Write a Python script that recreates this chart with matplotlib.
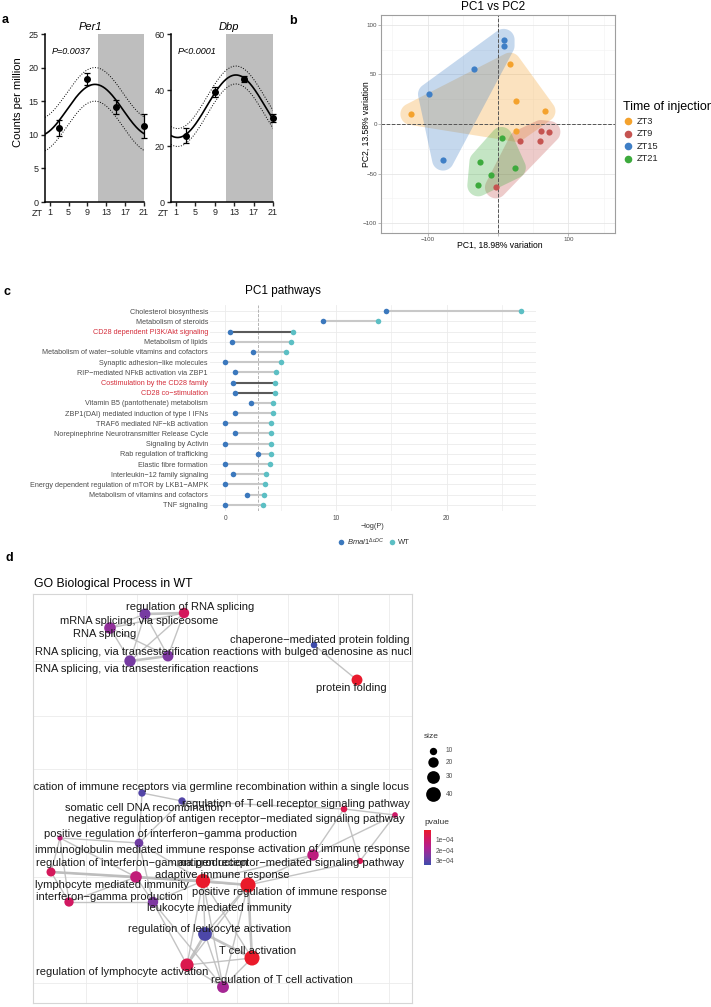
import numpy as np
import matplotlib.pyplot as plt
from matplotlib.colors import LinearSegmentedColormap, Normalize
from matplotlib.cm import ScalarMappable
from matplotlib.patches import Polygon

W, H = 711, 1007
plt.rcParams['font.family'] = ['Liberation Sans', 'DejaVu Sans']
plt.rcParams['mathtext.fontset'] = 'custom'
plt.rcParams['mathtext.rm'] = 'Liberation Sans'
plt.rcParams['mathtext.it'] = 'Liberation Sans:italic'

# ---------------- data: panel a (circadian expression)
zt = np.array([3, 9, 15, 21])
zt_ticks = [1, 5, 9, 13, 17, 21]
per1_mean = np.array([11.0, 18.3, 14.1, 11.3])
per1_err = [1.25, 0.9, 1.07, 1.74]
per1_band = 2.5
dbp_mean = np.array([23.6, 39.3, 43.9, 30.0])
dbp_err = [2.7, 1.7, 1.2, 1.4]
dbp_band = 3.2
dark_start = 11.3

# ---------------- data: panel b (PCA)
pca_groups = ['ZT3', 'ZT9', 'ZT15', 'ZT21']
pca_colors = ['#F4A22D', '#C55451', '#3F7FC6', '#3DAA3D']
zt3_pc1 = [-123, 17, 25, 66, 26]
zt3_pc2 = [10, 61, 23, 13, -7]
zt9_pc1 = [31, 61, 73, 60, -3]
zt9_pc2 = [-17, -7, -8, -17, -64]
zt15_pc1 = [8, 8, -34, -98, -78]
zt15_pc2 = [85, 79, 56, 30, -36]
zt21_pc1 = [5, -25, -10, -28, 24]
zt21_pc2 = [-14, -38, -51, -62, -44]

# ---------------- data: panel c (pathways)
pathways = [
    'Cholesterol biosynthesis', 'Metabolism of steroids',
    'CD28 dependent PI3K/Akt signaling', 'Metabolism of lipids',
    'Metabolism of water\u2212soluble vitamins and cofactors',
    'Synaptic adhesion\u2212like molecules',
    'RIP\u2212mediated NFkB activation via ZBP1',
    'Costimulation by the CD28 family', 'CD28 co\u2212stimulation',
    'Vitamin B5 (pantothenate) metabolism',
    'ZBP1(DAI) mediated induction of type I IFNs',
    'TRAF6 mediated NF\u2212kB activation',
    'Norepinephrine Neurotransmitter Release Cycle',
    'Signaling by Activin', 'Rab regulation of trafficking',
    'Elastic fibre formation', 'Interleukin\u221212 family signaling',
    'Energy dependent regulation of mTOR by LKB1\u2212AMPK',
    'Metabolism of vitamins and cofactors', 'TNF signaling']
bmal1_logp = [14.5, 8.8, 0.4, 0.6, 2.5, 0.0, 0.9, 0.7, 0.85, 2.3,
              0.85, 0.0, 0.85, 0.0, 3.0, 0.0, 0.7, 0.0, 2.0, 0.0]
wt_logp = [26.7, 13.8, 6.1, 5.9, 5.5, 5.0, 4.55, 4.5, 4.5, 4.35,
           4.35, 4.1, 4.1, 4.1, 4.1, 4.05, 3.7, 3.6, 3.5, 3.45]
highlight = ['CD28 dependent PI3K/Akt signaling',
             'Costimulation by the CD28 family', 'CD28 co\u2212stimulation']

# ---------------- data: panel d (GO network, layout coordinates)
go_terms = [
    'regulation of RNA splicing', 'mRNA splicing, via spliceosome',
    'RNA splicing', 'RNA splicing, via transesterification reactions',
    'RNA splicing, via transesterification reactions with bulged adenosine as nucleophile',
    'chaperone\u2212mediated protein folding', 'protein folding',
    'somatic diversification of immune receptors via germline recombination within a single locus',
    'somatic cell DNA recombination',
    'regulation of T cell receptor signaling pathway',
    'negative regulation of antigen receptor\u2212mediated signaling pathway',
    'positive regulation of interferon\u2212gamma production',
    'immunoglobulin mediated immune response',
    'activation of immune response',
    'regulation of interferon\u2212gamma production',
    'antigen receptor\u2212mediated signaling pathway',
    'lymphocyte mediated immunity', 'adaptive immune response',
    'positive regulation of immune response',
    'interferon\u2212gamma production', 'leukocyte mediated immunity',
    'regulation of leukocyte activation', 'T cell activation',
    'regulation of lymphocyte activation',
    'regulation of T cell activation']
node_x = [184, 145, 110, 130, 168, 314, 357, 142, 182, 344, 395, 60, 139,
          313, 51, 360, 136, 203, 248, 69, 153, 205, 252, 187, 223]
node_y = [613, 614, 628, 661, 656, 645, 680, 793, 801, 809, 815, 838, 843,
          855, 872, 861, 877, 881, 885, 902, 902, 934, 958, 965, 987]
label_x = [190, 139, 105, 147, 35, 320, 351, 409, 144, 296, 236, 170, 145,
           334, 36, 291, 112, 222, 290, 109, 219, 210, 258, 122, 282]
label_y = [607, 621, 634, 669, 652, 640, 688, 787, 808, 804, 819, 834, 850,
           849, 863, 863, 885, 875, 892, 897, 908, 929, 951, 972, 980]
label_ha = ['center'] * 25
label_ha[4] = 'left'
label_ha[14] = 'left'
label_ha[7] = 'right'
go_size = [20, 22, 25, 24, 22, 8, 22, 10, 10, 8, 6, 5, 14, 24, 15, 7,
           25, 38, 42, 16, 20, 35, 42, 32, 26]
go_pvalue = [0.8e-4, 2.6e-4, 2.2e-4, 2.6e-4, 2.5e-4, 3.4e-4, 0.1e-4,
             3.1e-4, 3.1e-4, 0.6e-4, 1.0e-4, 1.3e-4, 2.7e-4, 1.4e-4,
             0.8e-4, 0.7e-4, 1.3e-4, 0.1e-4, 0.05e-4, 0.9e-4, 2.5e-4,
             3.2e-4, 0.05e-4, 0.6e-4, 1.9e-4]
go_edges = [(0, 1, 2), (1, 2, 1), (1, 3, 1), (1, 4, 1), (2, 3, 1), (2, 4, 1),
            (0, 3, 1), (0, 4, 1), (3, 4, 2), (0, 2, 1), (5, 6, 1),
            (7, 8, 1), (7, 12, 1), (8, 12, 1), (8, 9, 1), (9, 10, 1),
            (9, 15, 1), (9, 13, 1), (10, 15, 1), (10, 13, 1), (13, 18, 1),
            (15, 18, 1), (13, 17, 1), (11, 14, 1), (11, 19, 1), (11, 12, 1),
            (11, 16, 1), (14, 19, 1), (14, 16, 2), (14, 17, 1), (12, 16, 1),
            (12, 17, 1), (12, 20, 1), (16, 17, 2), (16, 20, 1), (16, 19, 1),
            (16, 18, 1), (19, 20, 1), (17, 18, 2), (17, 20, 1), (17, 21, 1),
            (17, 22, 1), (17, 23, 1), (17, 24, 1), (18, 21, 1), (18, 22, 2),
            (18, 23, 1), (18, 24, 1), (20, 23, 1), (20, 24, 1), (21, 22, 2),
            (21, 23, 2), (21, 24, 1), (22, 23, 1), (22, 24, 1), (23, 24, 1),
            (14, 18, 1)]
size_breaks = [10, 20, 30, 40]
pvalue_ticks = [1e-4, 2e-4, 3e-4]

fig = plt.figure(figsize=(W / 100, H / 100), dpi=100)


def add_ax(l, t, r, b):
    return fig.add_axes([l / W, 1 - b / H, (r - l) / W, (b - t) / H])


def ftext(x, y, s, **kw):
    fig.text(x / W, 1 - y / H, s, **kw)


def cosinor(t, y):
    w = 2 * np.pi / 24
    X = np.column_stack([np.ones(len(t)), np.cos(w * t), np.sin(w * t)])
    c = np.linalg.lstsq(X, y, rcond=None)[0]
    tt = np.linspace(0, 21, 200)
    return tt, c[0] + c[1] * np.cos(w * tt) + c[2] * np.sin(w * tt)


# ---------------- panel a
for (l, r, mean, err, band, ymax, yt, name, pval, tx) in [
        (45, 144, per1_mean, per1_err, per1_band, 25, range(0, 26, 5), 'Per1', 'P=0.0037', 90),
        (171, 273, dbp_mean, dbp_err, dbp_band, 60, range(0, 61, 20), 'Dbp', 'P<0.0001', 229)]:
    ax = add_ax(l, 34, r, 202)
    ax.axvspan(dark_start, 21, color='#BEBEBE', lw=0, zorder=0)
    tt, fit = cosinor(zt, mean)
    ax.plot(tt, fit, color='black', lw=1.2)
    ax.plot(tt, fit + band, color='black', lw=0.7, ls=':')
    ax.plot(tt, fit - band, color='black', lw=0.7, ls=':')
    ax.errorbar(zt, mean, yerr=err, fmt='o', color='black', ms=4,
                capsize=2, elinewidth=0.9, capthick=0.9, clip_on=False, zorder=5)
    ax.set_xlim(0, 21)
    ax.set_ylim(0, ymax)
    ax.set_xticks(zt_ticks)
    ax.set_yticks(list(yt))
    for s in ['top', 'right']:
        ax.spines[s].set_visible(False)
    for s in ['left', 'bottom']:
        ax.spines[s].set_linewidth(1.1)
    ax.tick_params(labelsize=6.5, length=3, width=1, pad=1.5, colors='#222222')
    ftext(tx, 27, name, fontsize=8, style='italic', ha='center', va='center')
    ftext(l + 7, 51, pval, fontsize=6.5, style='italic', ha='left', va='center')
    ftext(l - 8, 214, 'ZT', fontsize=6.5, ha='center', va='center', color='#222222')

ftext(18, 102, 'Counts per million', fontsize=8, rotation=90, ha='center', va='center')

# ---------------- panel b


def convex_hull(pts):
    pts = sorted(set(map(tuple, pts)))

    def cross(o, a, b):
        return (a[0] - o[0]) * (b[1] - o[1]) - (a[1] - o[1]) * (b[0] - o[0])
    lower, upper = [], []
    for p in pts:
        while len(lower) >= 2 and cross(lower[-2], lower[-1], p) <= 0:
            lower.pop()
        lower.append(p)
    for p in reversed(pts):
        while len(upper) >= 2 and cross(upper[-2], upper[-1], p) <= 0:
            upper.pop()
        upper.append(p)
    return np.array(lower[:-1] + upper[:-1])


axb = add_ax(381, 15, 615, 233)
pcx = [zt3_pc1, zt9_pc1, zt15_pc1, zt21_pc1]
pcy = [zt3_pc2, zt9_pc2, zt15_pc2, zt21_pc2]
ang = np.linspace(0, 2 * np.pi, 48)
for xs, ys, col in zip(pcx, pcy, pca_colors):
    ring = [(x + 15.5 * np.cos(a), y + 11 * np.sin(a)) for x, y in zip(xs, ys) for a in ang]
    axb.add_patch(Polygon(convex_hull(ring), closed=True, fc=col, alpha=0.3, lw=0, zorder=1))
for xs, ys, col in zip(pcx, pcy, pca_colors):
    axb.scatter(xs, ys, s=20, color=col, zorder=4, lw=0)
axb.axhline(0, color='#555555', ls='--', lw=0.7, zorder=2)
axb.axvline(0, color='#555555', ls='--', lw=0.7, zorder=2)
axb.set_xlim(-166, 166)
axb.set_ylim(-110, 110)
axb.set_xticks([-100, 0, 100])
axb.set_xticklabels(['\u2212100', '', '100'])
axb.set_xticks([-150, -50, 50, 150], minor=True)
axb.set_yticks([-100, -50, 0, 50, 100])
axb.set_yticklabels(['\u2212100', '\u221250', '0', '50', '100'])
axb.set_yticks([-75, -25, 25, 75], minor=True)
axb.grid(which='major', color='#E6E6E6', lw=0.6)
axb.grid(which='minor', color='#F2F2F2', lw=0.4)
axb.set_axisbelow(True)
for s in axb.spines.values():
    s.set_color('#9E9E9E')
    s.set_linewidth(0.8)
axb.tick_params(labelsize=4.5, length=2, width=0.5, colors='#9E9E9E',
                labelcolor='#4D4D4D', pad=1)
axb.tick_params(which='minor', length=0)
ftext(493, 7, 'PC1 vs PC2', fontsize=8.5, ha='center', va='center')
ftext(500, 245, 'PC1, 18.98% variation', fontsize=6.2, ha='center', va='center')
ftext(366, 124, 'PC2, 13.58% variation', fontsize=6.2, rotation=90, ha='center', va='center')

# ---------------- panel c
axc = add_ax(210, 305, 536, 511)
rows = np.arange(len(pathways))
for i, name in enumerate(pathways):
    seg_col = '#5A5A5A' if name in highlight else '#C8C8C8'
    axc.plot([bmal1_logp[i], wt_logp[i]], [i, i], color=seg_col, lw=1.5, zorder=2,
             solid_capstyle='butt')
axc.scatter(bmal1_logp, rows, s=16, color='#3B78BD', zorder=3, lw=0, clip_on=False)
axc.scatter(wt_logp, rows, s=16, color='#5CBFC4', zorder=3, lw=0, clip_on=False)
axc.axvline(3, color='#A8A8A8', ls='--', lw=0.6, zorder=1)
axc.set_xlim(-1.38, 28.07)
axc.set_ylim(19.6, -0.6)
axc.set_yticks(rows)
axc.set_yticklabels(pathways)
for lab in axc.get_yticklabels():
    lab.set_color('#D42F3C' if lab.get_text() in highlight else '#4D4D4D')
axc.set_xticks([0, 10, 20])
axc.set_xticks([5, 15, 25], minor=True)
axc.grid(which='major', color='#EBEBEB', lw=0.6)
axc.grid(which='minor', axis='x', color='#EBEBEB', lw=0.5)
axc.set_axisbelow(True)
for s in axc.spines.values():
    s.set_visible(False)
axc.tick_params(axis='y', labelsize=5.2, length=0, pad=1.5)
axc.tick_params(axis='x', labelsize=4.8, length=0, pad=3, labelcolor='#4D4D4D')
axc.tick_params(which='minor', length=0)
ftext(283, 291, 'PC1 pathways', fontsize=8.5, ha='center', va='center')
ftext(373, 526, '\u2212log(P)', fontsize=5.2, ha='center', va='center', color='#333333')

# ---------------- panel d
axd = add_ax(33, 594, 412, 1003)
axd.set_xlim(33, 412)
axd.set_ylim(1003, 594)
for gx in [86, 137, 187, 237, 288, 338, 389]:
    axd.axvline(gx, color='#EBEBEB', lw=0.6, zorder=0)
for gy in [661, 716, 769, 877, 983]:
    axd.axhline(gy, color='#EBEBEB', lw=0.6, zorder=0)
for a, b, wgt in go_edges:
    axd.plot([node_x[a], node_x[b]], [node_y[a], node_y[b]], color='#BDBDBD',
             lw=1.0 + 0.9 * (wgt - 1), alpha=0.9, zorder=1, solid_capstyle='round')
cmap = LinearSegmentedColormap.from_list(
    'pv', ['#EA1A2A', '#D11861', '#B02090', '#7A3AA2', '#3E4BAA'])
norm = Normalize(vmin=0.05e-4, vmax=3.4e-4)
axd.scatter(node_x, node_y, s=[2.8 * v for v in go_size], c=go_pvalue, cmap=cmap,
            norm=norm, lw=0, zorder=3)
for i, term in enumerate(go_terms):
    axd.text(label_x[i], label_y[i], term, fontsize=8, ha=label_ha[i], va='center',
             color='#1A1A1A', zorder=4, clip_on=True)
axd.set_xticks([])
axd.set_yticks([])
for s in axd.spines.values():
    s.set_color('#D6D6D6')
    s.set_linewidth(0.8)
ftext(34, 584, 'GO Biological Process in WT', fontsize=8.8, ha='left', va='center')

# pvalue colourbar
cax = add_ax(424, 830, 431, 865)
cb = fig.colorbar(ScalarMappable(norm=norm, cmap=cmap), cax=cax)
cax.invert_yaxis()
cb.outline.set_visible(False)
cb.set_ticks(pvalue_ticks)
cb.set_ticklabels(['1e\u221204', '2e\u221204', '3e\u221204'])
cax.tick_params(labelsize=4.8, length=2, width=0.5, color='white', labelcolor='#4D4D4D', pad=1.5)
ftext(424, 823, 'pvalue', fontsize=6, ha='left', va='center', color='#333333')

# ---------------- overlay for legends and panel letters
ov = fig.add_axes([0, 0, 1, 1])
ov.set_xlim(0, W)
ov.set_ylim(H, 0)
ov.axis('off')
ov.set_zorder(10)

# panel b legend
ftext(623, 107, 'Time of injection', fontsize=9, ha='left', va='center')
for k, (g, col) in enumerate(zip(pca_groups, pca_colors)):
    yy = 121 + k * 12.6
    ov.scatter([628], [yy], s=30, color=col, lw=0)
    ftext(637, yy, g, fontsize=6.7, ha='left', va='center', color='#222222')

# panel c legend
ov.scatter([341], [542], s=16, color='#3B78BD', lw=0)
ftext(347, 542, r'$\mathit{Bmal1}^{\Delta cDC}$', fontsize=5.5, ha='left', va='center', color='#333333')
ov.scatter([392], [542], s=16, color='#5CBFC4', lw=0)
ftext(398, 542, 'WT', fontsize=5.5, ha='left', va='center', color='#333333')

# panel d size legend
ftext(424, 737, 'size', fontsize=6, ha='left', va='center', color='#333333')
for v, yy in zip(size_breaks, [751, 762, 777, 794]):
    ov.scatter([433], [yy], s=2.8 * v, color='black', lw=0)
    ftext(446, yy, str(v), fontsize=4.8, ha='left', va='center', color='#4D4D4D')

# panel letters
for letter, x, y in [('a', 2, 20), ('b', 289, 21), ('c', 4, 292), ('d', 5, 558)]:
    ftext(x, y, letter, fontsize=9, fontweight='bold', ha='left', va='center')

fig.savefig('out.png', dpi=100)
